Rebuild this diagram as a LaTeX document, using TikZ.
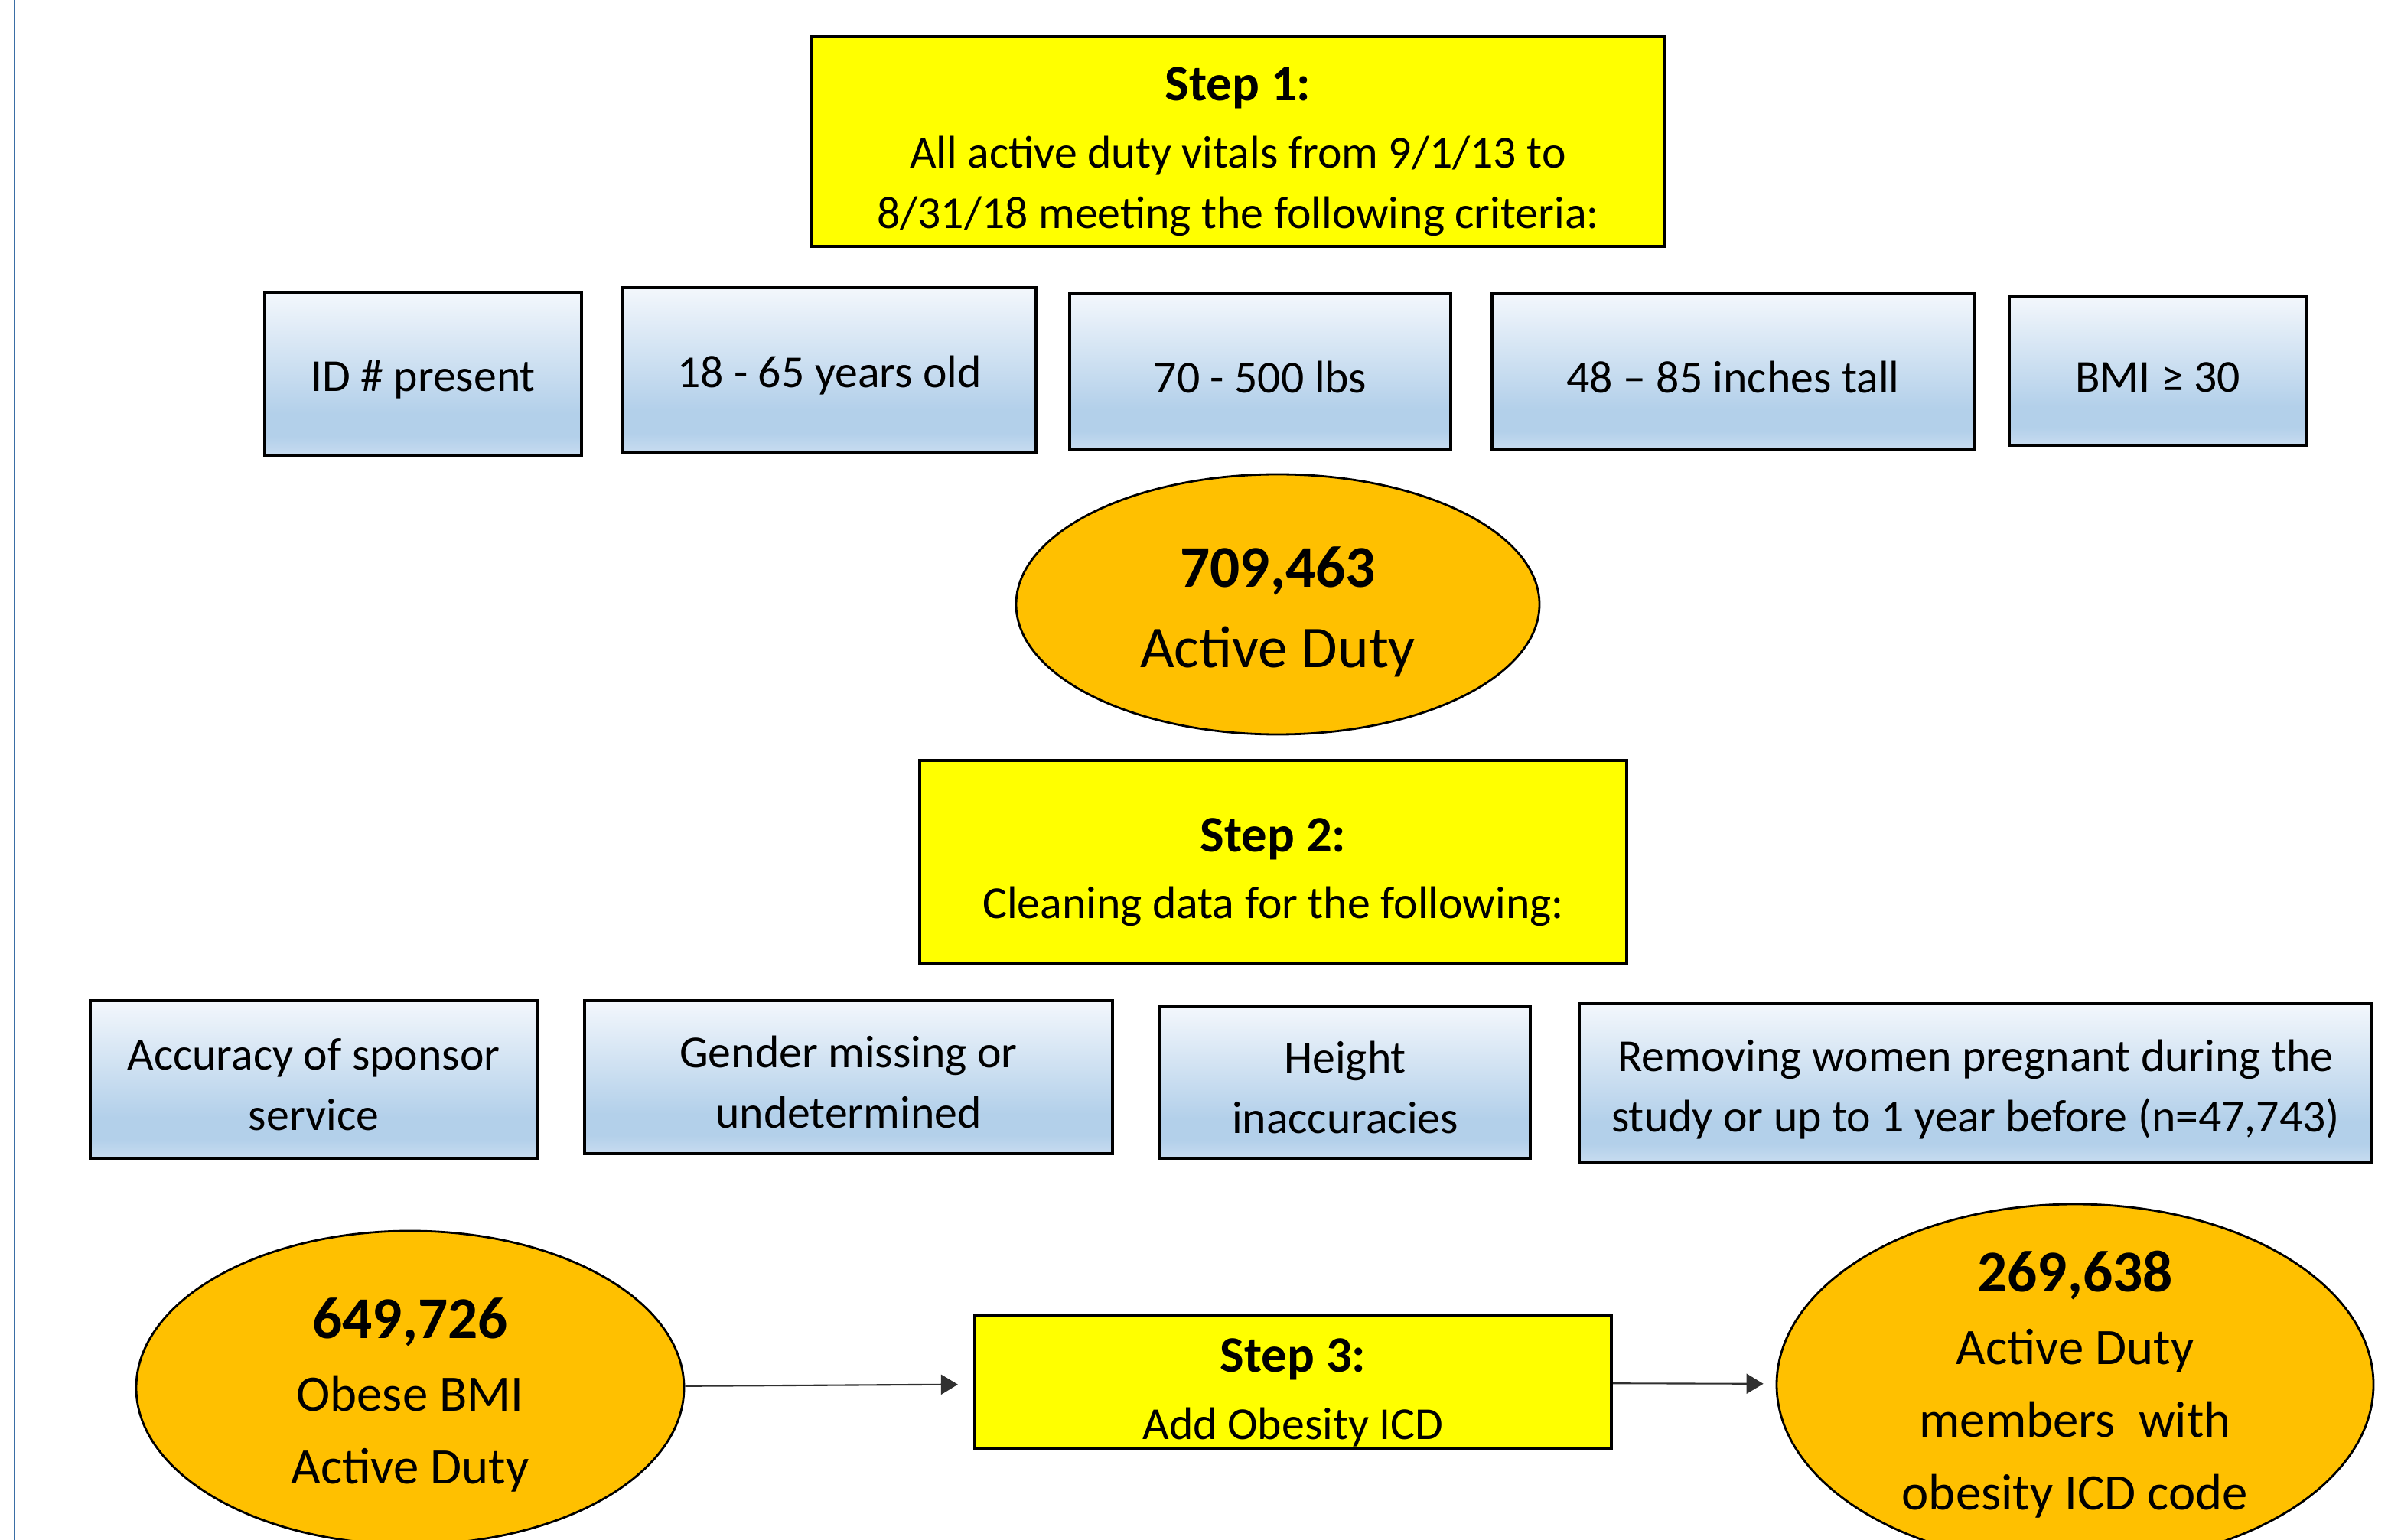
\documentclass[tikz,border=0pt]{standalone}
\usepackage{fontspec}
\setmainfont{Carlito}
\usepackage{tikz}
\usetikzlibrary{shapes}
\usetikzlibrary{arrows.meta}
\definecolor{stepyellow}{HTML}{FFFF00}
\definecolor{countorange}{HTML}{FFC000}
\definecolor{crittop}{HTML}{F3F7FC}
\definecolor{critmid}{HTML}{B3D0EA}
\definecolor{critlow}{HTML}{C8DCF0}
\definecolor{pageline}{HTML}{3A6EA5}
\definecolor{flowline}{HTML}{303030}
\pgfdeclareverticalshading{critshade}{100bp}{color(0bp)=(critlow); color(25bp)=(critlow); color(31bp)=(critmid); color(38bp)=(critmid); color(75bp)=(crittop); color(100bp)=(crittop)}
% pushes the first line of a node a little down
\newcommand{\dropline}[1]{\rule{0pt}{#1}}
\tikzset{
	stepbox/.style={rectangle,draw,line width=1.2pt,fill=stepyellow,align=center,inner sep=0pt,font=\fontsize{17}{22.5}\selectfont},
	critbox/.style={rectangle,draw,line width=1.2pt,shade,shading=critshade,align=center,inner sep=0pt,font=\fontsize{17}{22.5}\selectfont},
	count node/.style={ellipse,draw,line width=0.8pt,fill=countorange,align=center,inner sep=0pt},
	flow/.style={->,draw=flowline,line width=0.6pt}
}

\begin{document}
\begin{tikzpicture}[>={Triangle[length=2.2mm,width=2.6mm]}]
	\useasboundingbox (0,0) rectangle (31.38,-20.13);
	\draw[pageline,line width=0.7pt] (0.19,0) -- (0.19,-20.13);

	% step 1 and its criteria
	\node[stepbox,minimum width=11.16cm,minimum height=2.74cm] (s1) at (16.18,-1.85)
		{\dropline{20pt}{\fontsize{19}{22.5}\selectfont\bfseries Step 1:}\\[2.5pt]
		 All active duty vitals from 9/1/13 to\\
		 8/31/18 meeting the following criteria:};

	\node[critbox,minimum width=4.14cm,minimum height=2.14cm] (id) at (5.53,-4.89) {\dropline{15.5pt}ID \# present};
	\node[critbox,minimum width=5.4cm,minimum height=2.16cm] (age) at (10.84,-4.84) {\dropline{15.5pt}18 - 65 years old};
	\node[critbox,minimum width=4.98cm,minimum height=2.04cm] (weight) at (16.47,-4.86) {\dropline{15.5pt}70 - 500 lbs};
	\node[critbox,minimum width=6.3cm,minimum height=2.04cm] (height) at (22.65,-4.86) {\dropline{15.5pt}48 – 85 inches tall};
	\node[critbox,minimum width=3.88cm,minimum height=1.94cm] (bmi) at (28.2,-4.85) {\dropline{15.5pt}BMI ≥ 30};

	\node[count node,minimum width=6.84cm,minimum height=3.4cm,font=\fontsize{22}{30}\selectfont] (active) at (16.7,-7.9)
		{\dropline{20.5pt}{\bfseries 709,463}\\Active Duty};

	% step 2 and the cleaning
	\node[stepbox,minimum width=9.24cm,minimum height=2.66cm] (s2) at (16.64,-11.27)
		{\dropline{20pt}{\fontsize{19}{22.5}\selectfont\bfseries Step 2:}\\[2pt]
		 Cleaning data for the following:};

	\node[critbox,minimum width=5.84cm,minimum height=2.06cm] (sponsor) at (4.1,-14.11) {\dropline{15.5pt}Accuracy of sponsor\\service};
	\node[critbox,minimum width=6.9cm,minimum height=2.0cm] (gender) at (11.09,-14.08) {\dropline{15.5pt}Gender missing or\\undetermined};
	\node[critbox,minimum width=4.84cm,minimum height=1.98cm] (inacc) at (17.58,-14.15) {\dropline{15.5pt}Height\\inaccuracies};
	\node[critbox,minimum width=10.36cm,minimum height=2.08cm] (pregnant) at (25.82,-14.16)
		{\dropline{16.5pt}Removing women pregnant during the\\study or up to 1 year before (n=47,743)};

	% step 3
	\node[count node,minimum width=7.16cm,minimum height=4.1cm,font=\fontsize{19}{27}\selectfont] (obese) at (5.36,-18.14)
		{\dropline{20.5pt}{\fontsize{22}{27}\selectfont\bfseries 649,726}\\Obese BMI\\Active Duty};
	\node[stepbox,minimum width=8.32cm,minimum height=1.74cm] (s3) at (16.9,-18.07)
		{\dropline{20pt}{\fontsize{19}{22.5}\selectfont\bfseries Step 3:}\\[2.5pt]
		 Add Obesity ICD};
	\node[count node,minimum width=7.8cm,minimum height=4.72cm,inner ysep=-0.4cm,font=\fontsize{19}{27}\selectfont] (icd) at (27.12,-18.1)
		{{\fontsize{22}{27}\selectfont\bfseries 269,638}\\Active Duty\\members\ \ with\\obesity ICD code};

	\path[flow,shorten >=0.2cm] (obese) -- (s3);
	\path[flow,shorten >=0.16cm] (s3) -- (icd);
\end{tikzpicture}
\end{document}
